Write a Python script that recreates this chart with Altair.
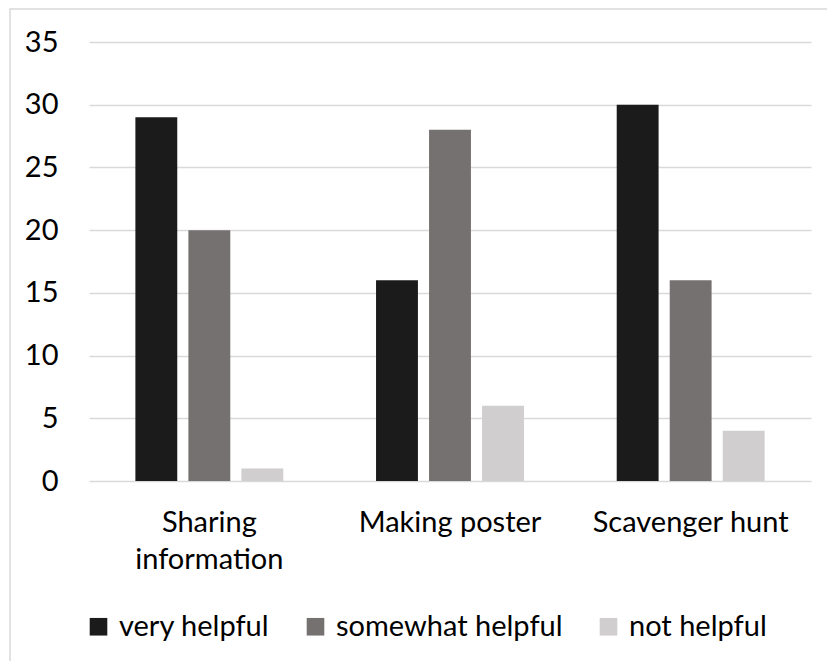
import altair as alt
import pandas as pd

categories = ["Sharing information", "Making poster", "Scavenger hunt"]
series = ["very helpful", "somewhat helpful", "not helpful"]
very_helpful = [29, 16, 30]
somewhat_helpful = [20, 28, 16]
not_helpful = [1, 6, 4]
colors = ["#1b1b1b", "#767171", "#d0cece"]

rows = []
for i, c in enumerate(categories):
    for s, vals in zip(series, [very_helpful, somewhat_helpful, not_helpful]):
        rows.append({"category": c, "series": s, "value": vals[i]})
df = pd.DataFrame(rows)

FONT = "Lato"
FS = 29
W, H = 722, 439

bars = alt.Chart(df).mark_bar().encode(
    x=alt.X("category:N", sort=categories,
            scale=alt.Scale(paddingInner=0, paddingOuter=0),
            axis=alt.Axis(title=None, labelAngle=0, domain=False, ticks=False,
                          labelPadding=27, labelLineHeight=37, labelLimit=400,
                          labelExpr="datum.label == 'Sharing information' ? ['Sharing', 'information'] : datum.label")),
    xOffset=alt.XOffset("series:N", sort=series,
                        scale=alt.Scale(paddingInner=0.21, paddingOuter=0.875)),
    y=alt.Y("value:Q", scale=alt.Scale(domain=[0, 35]),
            axis=alt.Axis(title=None, values=[0, 5, 10, 15, 20, 25, 30, 35],
                          domain=False, ticks=False, labelPadding=31,
                          grid=True, gridColor="#d9d9d9", gridWidth=1.3)),
    color=alt.Color("series:N", sort=series,
                    scale=alt.Scale(domain=series, range=colors),
                    legend=alt.Legend(title=None, orient="none", direction="horizontal",
                                      legendX=-5, legendY=570,
                                      symbolType="square", symbolSize=310,
                                      symbolStrokeWidth=0, labelOffset=6,
                                      labelLimit=500, columnPadding=31)),
)

border = alt.Chart(pd.DataFrame({"a": [0]})).mark_rect(
    fill=None, stroke="#d9d9d9", strokeWidth=1.5, clip=False
).encode(
    x=alt.value(-79), x2=alt.value(W + 60),
    y=alt.value(-33), y2=alt.value(H + 240),
)

chart = alt.layer(border, bars).properties(
    width=W, height=H,
    autosize=alt.AutoSizeParams(type="none"),
    padding={"left": 89, "top": 42, "right": 16, "bottom": 180},
    background="white",
).configure_view(stroke=None).configure_axis(
    labelFont=FONT, labelFontSize=FS, labelColor="#000000"
).configure_legend(
    labelFont=FONT, labelFontSize=FS, labelColor="#000000"
)

chart.save("out.html", embed_options={"renderer": "svg", "actions": False})
